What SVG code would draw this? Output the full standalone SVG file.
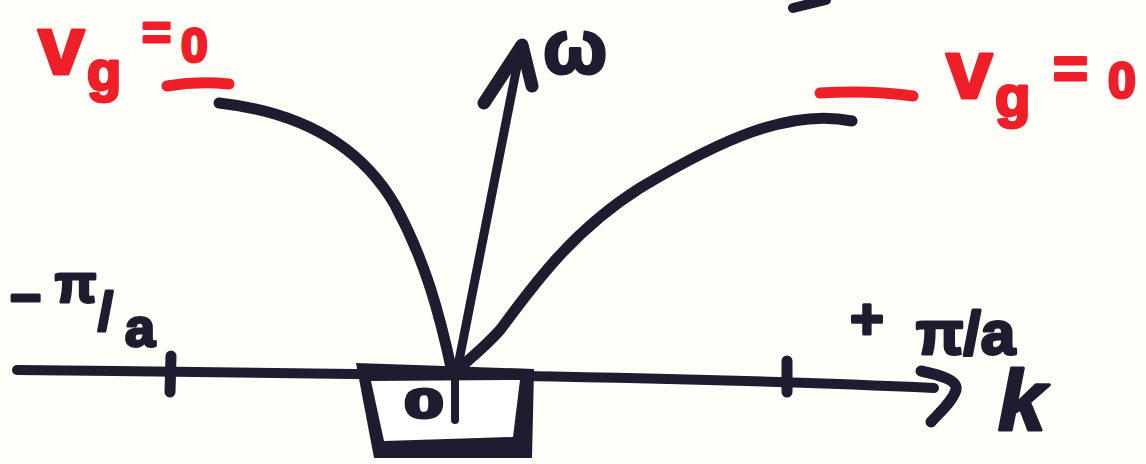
<svg xmlns="http://www.w3.org/2000/svg" width="1146" height="464" viewBox="0 0 1146 464">
  <style>
    .ink { fill: none; stroke: #1f1c30; stroke-linecap: round; stroke-linejoin: round; }
    .red { fill: none; stroke: #ef1f2a; stroke-linecap: round; stroke-linejoin: round; }
    .lbl { font-family: "Liberation Sans", "DejaVu Sans", sans-serif; font-weight: bold; fill: #1f1c30; stroke: #1f1c30; stroke-width: 3; stroke-linejoin: round; }
    .rlbl { font-family: "Liberation Sans", "DejaVu Sans", sans-serif; font-weight: bold; fill: #ef1f2a; stroke: #ef1f2a; stroke-width: 3; stroke-linejoin: round; }
  </style>
  <rect x="0" y="0" width="1146" height="464" fill="#fffef8"/>

  <g id="connectors">
    <!-- k axis -->
    <path class="ink" stroke-width="10" d="M17,370 C200,372 400,373 520,376 C700,379 850,384 934,388"/>
    <path class="ink" stroke-width="11" d="M921,371 C940,375 958,380 956,390 C952,402 940,412 931,422"/>
    <!-- ticks -->
    <path class="ink" stroke-width="11" d="M171,356 L170,392"/>
    <path class="ink" stroke-width="11" d="M787,361 L787,392"/>
    <!-- omega axis -->
    <path class="ink" stroke-width="9" d="M455,420 L456,376 L521,46"/>
    <path class="ink" stroke-width="13" d="M484,103 L522,45 L532,86"/>
    <!-- dispersion curves -->
    <path class="ink" stroke-width="11" d="M219,103 C300,112 360,145 395,205 C425,260 440,315 452,372"/>
    <path class="ink" stroke-width="11" d="M852,121 C790,108 720,140 640,188 C570,232 530,290 500,330 C480,352 465,362 455,373"/>
    <!-- mark at top edge -->
    <path class="ink" stroke-width="10" d="M793,8 L826,0"/>
  </g>

  <g id="origin-box">
    <polygon points="356,363 534,369 532,458 374,458" fill="#1f1c30"/>
    <polygon points="371,381 520,380 513,437 384,441" fill="#ffffff"/>
    <path class="ink" stroke-width="8" d="M455,378 L455,420"/>
    <text class="lbl" transform="translate(424,418) scale(1.75,1.05)" font-size="40" text-anchor="middle">0</text>
  </g>

  <g id="label-omega">
    <text class="lbl" x="543" y="73" font-size="76">ω</text>
  </g>

  <g id="label-k">
    <text class="lbl" x="998" y="430" font-size="86" font-style="italic">k</text>
  </g>

  <g id="label-minus-pi-a">
    <text class="lbl" font-size="54">
      <tspan x="10" y="316">−</tspan>
      <tspan x="55" y="302">π</tspan>
      <tspan x="98" y="330">/</tspan>
      <tspan x="125" y="346">a</tspan>
    </text>
  </g>

  <g id="label-plus-pi-a">
    <text class="lbl" x="850" y="339" font-size="58">+</text>
    <text class="lbl" x="916" y="354" font-size="62">π/a</text>
  </g>

  <g id="label-vg-left">
    <text class="rlbl" x="38" y="74" font-size="84">v</text>
    <text class="rlbl" x="87" y="90" font-size="56">g</text>
    <text class="rlbl" x="142" y="50" font-size="50">=</text>
    <text class="rlbl" x="181" y="62" font-size="48">0</text>
    <path class="red" stroke-width="11" d="M167,86 C190,82 210,82 229,84"/>
  </g>

  <g id="label-vg-right">
    <path class="red" stroke-width="11" d="M820,93 C850,91 885,92 913,96"/>
    <text class="rlbl" x="946" y="98" font-size="84">v</text>
    <text class="rlbl" x="995" y="116" font-size="58">g</text>
    <text class="rlbl" x="1053" y="88" font-size="60">=</text>
    <text class="rlbl" x="1108" y="98" font-size="50">0</text>
  </g>
</svg>
